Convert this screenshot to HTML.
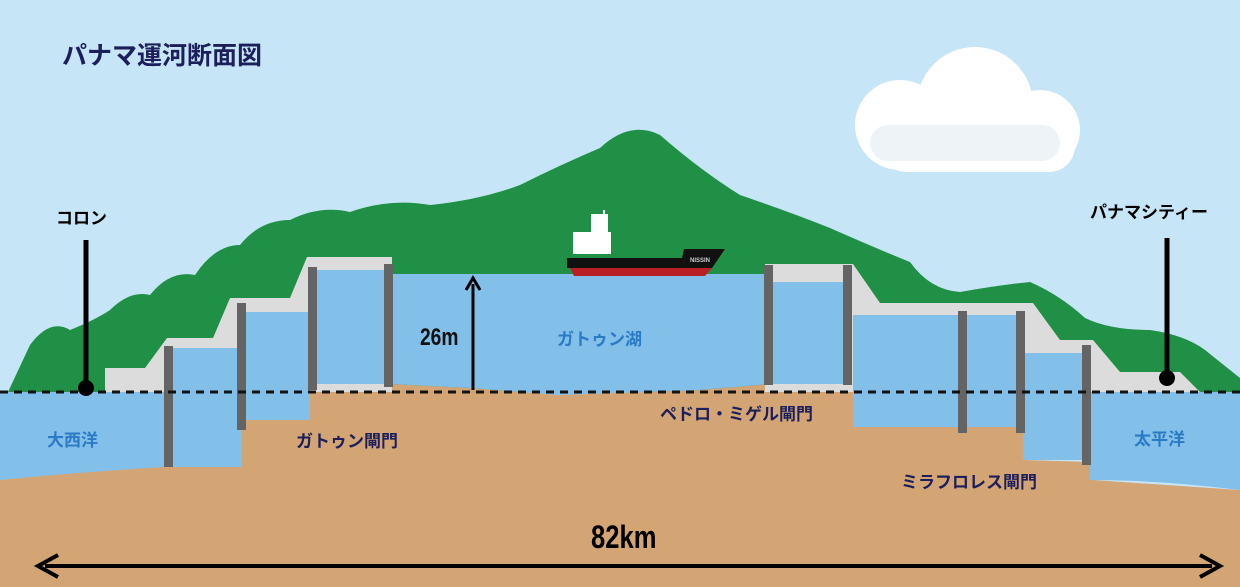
<!DOCTYPE html>
<html><head><meta charset="utf-8"><style>
html,body{margin:0;padding:0;width:1240px;height:587px;overflow:hidden;background:#c6e5f6}
svg{display:block}
text{font-family:"Liberation Sans","Noto Sans CJK JP",sans-serif;font-weight:bold}
</style></head><body>
<svg width="1240" height="587" viewBox="0 0 1240 587">
<rect width="1240" height="587" fill="#c6e5f6"/>
<!-- cloud -->
<g fill="#fff">
<circle cx="900" cy="125" r="45"/><circle cx="975" cy="105" r="58"/><circle cx="1040" cy="130" r="40"/>
<rect x="880" y="120" width="195" height="52" rx="26"/>
</g>
<rect x="870" y="125" width="190" height="36" rx="18" fill="#eef3f7"/>
<text x="62" y="64" font-size="25" fill="#1c1f5c">パナマ運河断面図</text>
<!-- mountain -->
<path d="M8,392 L30,345 Q50,318 70,330 Q95,320 110,310 Q130,290 150,295 Q170,270 195,275 Q215,245 240,245 Q260,220 290,220 Q320,205 350,212 Q390,198 430,205 Q480,200 520,185 Q560,165 600,148 Q630,120 660,135 Q700,170 740,195 Q790,212 830,228 Q880,250 910,262 Q930,290 960,292 Q1000,285 1030,282 Q1060,295 1085,318 Q1110,330 1150,330 Q1185,335 1205,350 Q1230,370 1240,378 L1240,392 Z" fill="#1f9045"/>
<!-- sand base -->
<path d="M0,470 L165,465 L242,465 L242,420 L310,420 L310,384 L390,384 L470,388 L560,395 L700,390 L770,384 L853,384 L853,427 L1023,427 L1023,460 L1093,462 L1093,480 L1240,490 L1240,587 L0,587 Z" fill="#d3a574"/>
<!-- sea water -->
<path d="M0,392 L170,392 L170,467 L165,467 Q80,472 0,480 Z" fill="#82bfe9"/>
<path d="M1090,392 L1240,392 L1240,490 Q1160,480 1090,480 Z" fill="#82bfe9"/>
<!-- concrete -->
<path d="M105,392 L105,368 L145,368 L167,338 L213,338 L230,298 L290,298 L307,257 L392,257 L392,392 Z" fill="#dcdcdc"/>
<path d="M765,392 L765,264 L853,264 L880,303 L1033,303 L1060,340 L1093,340 L1120,372 L1180,372 L1200,392 Z" fill="#dcdcdc"/>
<!-- chambers water -->
<rect x="170" y="348" width="72" height="119" fill="#82bfe9"/>
<rect x="242" y="312" width="68" height="108" fill="#82bfe9"/>
<rect x="312" y="270" width="78" height="114" fill="#82bfe9"/>
<!-- lake -->
<path d="M390,274 L770,274 L770,384 L700,390 L560,395 L470,388 L390,384 Z" fill="#82bfe9"/>
<rect x="770" y="282" width="80" height="102" fill="#82bfe9"/>
<rect x="853" y="315" width="170" height="112" fill="#82bfe9"/>
<rect x="1023" y="353" width="67" height="107" fill="#82bfe9"/>
<!-- gates -->
<g fill="#646464">
<rect x="164" y="346" width="9" height="121"/>
<rect x="237" y="303" width="9" height="127"/>
<rect x="308" y="267" width="9" height="123"/>
<rect x="384" y="264" width="9" height="123"/>
<rect x="764" y="265" width="9" height="120"/>
<rect x="843" y="265" width="9" height="120"/>
<rect x="958" y="311" width="9" height="122"/>
<rect x="1016" y="311" width="9" height="122"/>
<rect x="1082" y="345" width="9" height="120"/>
</g>
<!-- dashed line -->
<line x1="0" y1="392" x2="1240" y2="392" stroke="#111" stroke-width="3" stroke-dasharray="8,6"/>
<!-- poles -->
<line x1="86" y1="240" x2="86" y2="388" stroke="#000" stroke-width="5"/>
<circle cx="86" cy="388" r="8" fill="#000"/>
<line x1="1167" y1="238" x2="1167" y2="378" stroke="#000" stroke-width="5"/>
<circle cx="1167" cy="378" r="8" fill="#000"/>
<!-- ship -->
<rect x="573" y="232" width="38" height="22" fill="#fff"/>
<rect x="591" y="214" width="17" height="20" fill="#fff"/>
<rect x="603" y="210" width="2" height="6" fill="#fff"/>
<path d="M567,258 L682,258 L684,249 L725,249 L712,268 L567,268 Z" fill="#111"/>
<path d="M570,268 L712,268 L705,276 L574,276 Z" fill="#b82025"/>
<text x="690" y="262" font-size="6" fill="#ccc" font-weight="normal">NISSIN</text>
<!-- 26m arrow -->
<line x1="473" y1="390" x2="473" y2="284" stroke="#000" stroke-width="3"/>
<path d="M466,290 L473,278 L480,290" fill="none" stroke="#000" stroke-width="3"/>
<!-- labels -->
<text x="56" y="224" font-size="17" fill="#000">コロン</text>
<text x="1090" y="218" font-size="17" fill="#000">パナマシティー</text>
<text x="420" y="345" font-size="24" fill="#111" font-weight="normal" transform="translate(420 0) scale(0.8 1) translate(-420 0)">26m</text>
<text x="557" y="345" font-size="17" fill="#2a7ac6">ガトゥン湖</text>
<text x="47" y="446" font-size="17" fill="#2a7ac6">大西洋</text>
<text x="1134" y="445" font-size="17" fill="#2a7ac6">太平洋</text>
<text x="296" y="447" font-size="17" fill="#1c1f5c">ガトゥン閘門</text>
<text x="660" y="420" font-size="17" fill="#1c1f5c">ペドロ・ミゲル閘門</text>
<text x="901" y="488" font-size="17" fill="#1c1f5c">ミラフロレス閘門</text>
<text x="591" y="548" font-size="32" fill="#000" font-weight="normal" transform="translate(591 0) scale(0.8 1) translate(-591 0)">82km</text>
<!-- bottom arrow -->
<line x1="45" y1="566" x2="1212" y2="566" stroke="#000" stroke-width="4"/>
<path d="M58,555 L38,566 L58,577" fill="none" stroke="#000" stroke-width="4"/>
<path d="M1200,555 L1220,566 L1200,577" fill="none" stroke="#000" stroke-width="4"/>
</svg>
</body></html>
